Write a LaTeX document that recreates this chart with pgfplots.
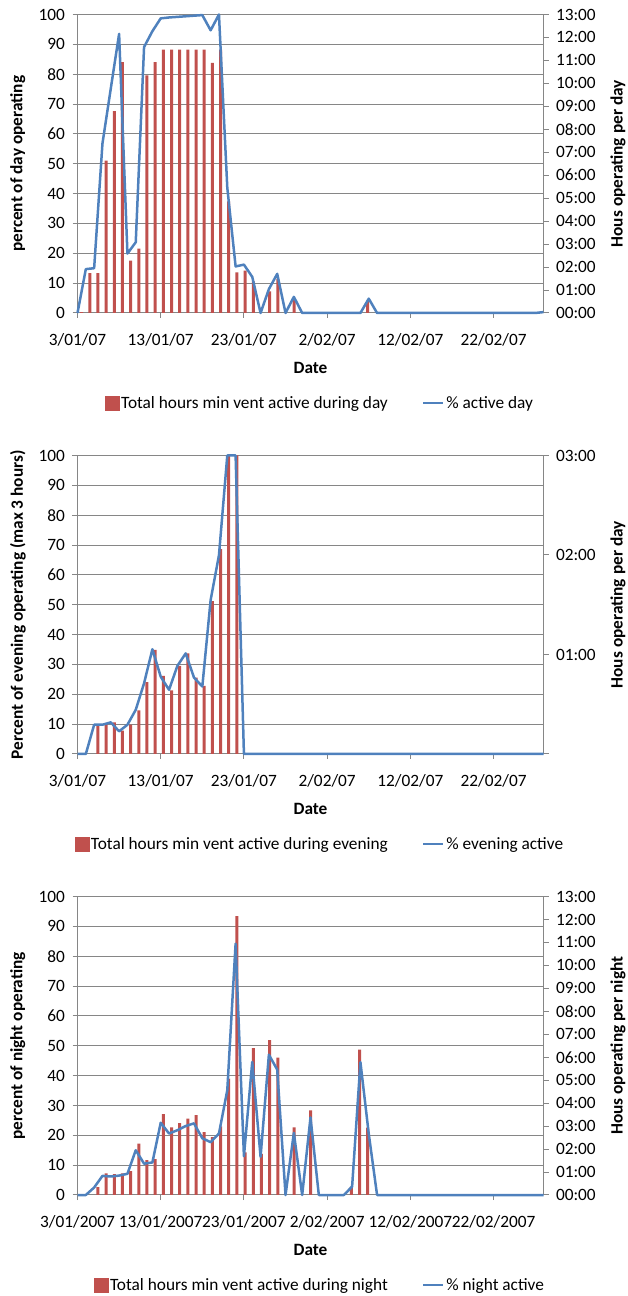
\documentclass[border=0pt]{standalone}
\usepackage{fontspec}
\setmainfont{Carlito}
\usepackage{pgfplots}
\pgfplotsset{compat=1.18}
\definecolor{barred}{HTML}{C0504D}
\definecolor{lineblue}{HTML}{4F81BD}
\definecolor{axgray}{HTML}{868686}
\newcommand{\fs}{\fontsize{17.3}{20}\selectfont}
\pgfplotsset{
  base/.style={scale only axis, width=466pt, height=298.5pt, anchor=south west,
    font=\fs, /pgf/number format/assume math mode=true},
  gridaxis/.style={base, xmin=0, xmax=56, ymin=0, ymax=100,
    axis x line*=bottom, axis y line*=left,
    ytick={0,10,...,100}, xtick={0,10,...,50},
    ymajorgrids, grid style={axgray, line width=1pt},
    axis line style={axgray, line width=1pt, -},
    tick style={axgray, line width=1pt}, tick align=outside, major tick length=5pt,
    every axis x label/.style={at={(axis description cs:0.5,-0.185)}, anchor=center, font=\fs\bfseries},
    every axis y label/.style={at={(axis description cs:-0.128,0.5)}, rotate=90, anchor=center, font=\fs\bfseries},
    xticklabel style={yshift=-12pt}, yticklabel style={xshift=-4pt}},
  baraxis/.style={base, xmin=0, xmax=57, ymin=0,
    axis x line=none, xtick=\empty, axis y line*=right,
    axis line style={axgray, line width=1pt, -},
    tick style={axgray, line width=1pt}, tick align=outside, major tick length=5pt,
    every axis y label/.style={at={(axis description cs:1.16,0.5)}, rotate=90, anchor=center, font=\fs\bfseries},
    yticklabel style={xshift=4pt}},
  lineaxis/.style={base, xmin=0, xmax=56, ymin=0, ymax=100, hide axis, clip=false,
    legend columns=2, legend cell align=left,
    legend style={at={(axis description cs:0.52,-0.302)}, anchor=center, draw=none, fill=none, font=\fs,
      /tikz/every even column/.append style={column sep=32pt}}},
  barstyle/.style={ybar, bar width=3pt, bar shift=0pt, fill=barred, draw=none},
  linestyle/.style={lineblue, line width=2.5pt, line join=round, mark=none,
    legend image code/.code={\draw[lineblue, line width=2.5pt] (0pt,0pt) -- (20pt,0pt);}},
  barlegend/.style={legend image code/.code={\fill[barred] (0pt,-7pt) rectangle (14pt,7pt);}}
}
\begin{document}
\begin{tikzpicture}
\path[use as bounding box] (0,0) rectangle (628pt,1296pt);

% ================= Chart 1: day =================
\begin{axis}[gridaxis, at={(77.5pt,983pt)},
  xticklabels={3/01/07,13/01/07,23/01/07,2/02/07,12/02/07,22/02/07},
  xlabel={Date}, ylabel={percent of day operating}]
\end{axis}
\begin{axis}[baraxis, at={(77.5pt,983pt)}, ymax=13,
  ytick={0,1,...,13},
  yticklabels={00:00,01:00,02:00,03:00,04:00,05:00,06:00,07:00,08:00,09:00,10:00,11:00,12:00,13:00},
  ylabel={Hous operating per day}]
\addplot[barstyle] coordinates {
(0.5,0.04) (1.5,1.74) (2.5,1.74) (3.5,6.64) (4.5,8.79) (5.5,10.92) (6.5,2.28) (7.5,2.80)
(8.5,10.35) (9.5,10.92) (10.5,11.47) (11.5,11.47) (12.5,11.47) (13.5,11.47) (14.5,11.47)
(15.5,11.47) (16.5,10.89) (17.5,11.47) (18.5,4.86) (19.5,1.77) (20.5,1.85) (21.5,1.38)
(23.5,0.94) (24.5,1.48) (26.5,0.61) (35.5,0.52)};
\end{axis}
\begin{axis}[lineaxis, at={(77.5pt,983pt)}]
\addlegendimage{barlegend}
\addlegendentry{Total hours min vent active during day}
\addplot[linestyle] coordinates {
(0,0) (1,14.7) (2,15.0) (3,56.8) (4,75.2) (5,93.5) (6,19.9) (7,23.7) (8,89.1) (9,94.4)
(10,98.7) (11,99.0) (12,99.2) (13,99.4) (14,99.6) (15,99.8) (16,94.7) (17,100) (18,42.0)
(19,15.6) (20,16.2) (21,12.1) (22,0) (23,8.0) (24,13.1) (25,0) (26,5.4) (27,0) (28,0)
(29,0) (30,0) (31,0) (32,0) (33,0) (34,0) (35,4.8) (36,0) (37,0) (38,0) (39,0) (40,0)
(41,0) (42,0) (43,0) (44,0) (45,0) (46,0) (47,0) (48,0) (49,0) (50,0) (51,0) (52,0)
(53,0) (54,0) (55,0) (56,0.3)};
\addlegendentry{\% active day}
\end{axis}

% ================= Chart 2: evening =================
\begin{axis}[gridaxis, at={(77.5pt,542pt)},
  xticklabels={3/01/07,13/01/07,23/01/07,2/02/07,12/02/07,22/02/07},
  xlabel={Date}, ylabel={Percent of evening operating (max 3 hours)}]
\end{axis}
\begin{axis}[baraxis, at={(77.5pt,542pt)}, ymax=3,
  ytick={0,1,2,3}, yticklabels={,01:00,02:00,03:00},
  ylabel={Hous operating per day}]
\addplot[barstyle] coordinates {
(2.5,0.294) (3.5,0.303) (4.5,0.318) (5.5,0.234) (6.5,0.294) (7.5,0.438) (8.5,0.723)
(9.5,1.047) (10.5,0.786) (11.5,0.639) (12.5,0.885) (13.5,1.011) (14.5,0.768) (15.5,0.684)
(16.5,1.536) (17.5,2.058) (18.5,3.0) (19.5,3.0)};
\end{axis}
\begin{axis}[lineaxis, at={(77.5pt,542pt)}]
\addlegendimage{barlegend}
\addlegendentry{Total hours min vent active during evening}
\addplot[linestyle] coordinates {
(0,0) (1,0) (2,9.8) (3,9.8) (4,10.6) (5,7.6) (6,9.8) (7,14.8) (8,23.7) (9,35.1)
(10,25.9) (11,21.5) (12,29.5) (13,33.7) (14,25.6) (15,22.6) (16,51.6) (17,66.6)
(18,100) (19,100) (20,0) (21,0) (22,0) (23,0) (24,0) (25,0) (26,0) (27,0) (28,0)
(29,0) (30,0) (31,0) (32,0) (33,0) (34,0) (35,0) (36,0) (37,0) (38,0) (39,0) (40,0)
(41,0) (42,0) (43,0) (44,0) (45,0) (46,0) (47,0) (48,0) (49,0) (50,0) (51,0) (52,0)
(53,0) (54,0) (55,0) (56,0)};
\addlegendentry{\% evening active}
\end{axis}

% ================= Chart 3: night =================
\begin{axis}[gridaxis, at={(77.5pt,101pt)},
  xticklabels={3/01/2007,13/01/2007,23/01/2007,2/02/2007,12/02/2007,22/02/2007},
  xlabel={Date}, ylabel={percent of night operating}]
\end{axis}
\begin{axis}[baraxis, at={(77.5pt,101pt)}, ymax=13,
  ytick={0,1,...,13},
  yticklabels={00:00,01:00,02:00,03:00,04:00,05:00,06:00,07:00,08:00,09:00,10:00,11:00,12:00,13:00},
  ylabel={Hous operating per night}]
\addplot[barstyle] coordinates {
(2.5,0.34) (3.5,0.94) (4.5,0.91) (5.5,0.94) (6.5,1.04) (7.5,2.24) (8.5,1.52) (9.5,1.56)
(10.5,3.52) (11.5,2.95) (12.5,3.13) (13.5,3.33) (14.5,3.48) (15.5,2.74) (16.5,2.52)
(17.5,2.99) (18.5,5.07) (19.5,12.14) (20.5,1.86) (21.5,6.40) (22.5,1.79) (23.5,6.75)
(24.5,5.98) (26.5,2.95) (28.5,3.68) (33.5,0.36) (34.5,6.33) (35.5,2.93)};
\end{axis}
\begin{axis}[lineaxis, at={(77.5pt,101pt)}]
\addlegendimage{barlegend}
\addlegendentry{Total hours min vent active during night}
\addplot[linestyle] coordinates {
(0,0) (1,0) (2,2.5) (3,6.4) (4,6.2) (5,6.5) (6,7.1) (7,15.0) (8,10.5) (9,10.9)
(10,24.2) (11,20.6) (12,21.7) (13,23.1) (14,24.0) (15,19.0) (16,17.7) (17,20.6)
(18,35.1) (19,84.2) (20,13.0) (21,44.6) (22,12.8) (23,47.0) (24,42.0) (25,0) (26,20.8)
(27,0) (28,26.0) (29,0) (30,0) (31,0) (32,0) (33,2.8) (34,44.5) (35,20.5) (36,0)
(37,0) (38,0) (39,0) (40,0) (41,0) (42,0) (43,0) (44,0) (45,0) (46,0) (47,0) (48,0)
(49,0) (50,0) (51,0) (52,0) (53,0) (54,0) (55,0) (56,0)};
\addlegendentry{\% night active}
\end{axis}
\end{tikzpicture}
\end{document}
